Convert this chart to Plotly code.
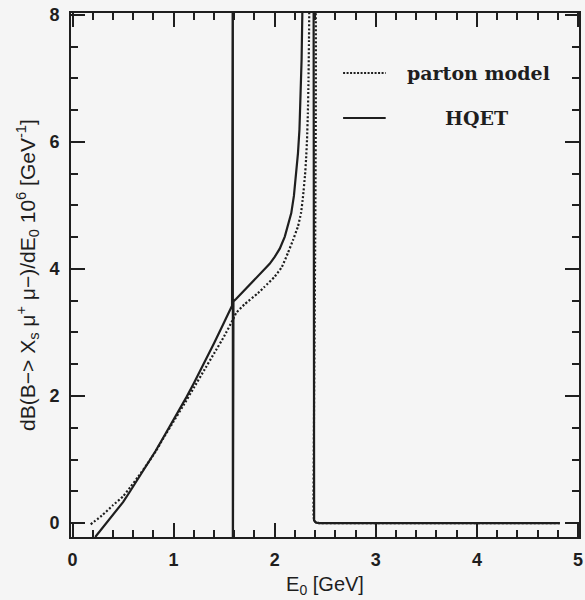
import plotly.graph_objects as go

# Muon energy spectrum in B -> X_s mu+ mu-: parton model vs HQET
E_parton = [0.18, 0.30, 0.40, 0.50, 0.57, 0.65, 0.74, 0.82, 0.90, 1.00, 1.10, 1.20,
            1.30, 1.40, 1.50, 1.586, 1.62, 1.70, 1.835, 1.90, 2.00, 2.07, 2.13, 2.18,
            2.23, 2.26, 2.28, 2.30, 2.31, 2.32, 2.328, 2.334, 2.339, 2.343, 2.35,
            2.384, 2.384, 2.39, 2.41, 2.44, 4.82]
y_parton = [-0.02, 0.13, 0.28, 0.42, 0.56, 0.73, 0.93, 1.12, 1.34, 1.60, 1.86, 2.13,
            2.40, 2.67, 2.94, 3.20, 3.31, 3.44, 3.62, 3.72, 3.88, 4.03, 4.25, 4.45,
            4.67, 4.88, 5.14, 5.48, 5.72, 6.05, 6.45, 6.95, 7.6, 8.3, 9.5,
            9.5, 0.12, 0.04, 0.005, 0.0, 0.0]

E_hqet = [0.225, 0.30, 0.40, 0.50, 0.57, 0.65, 0.74, 0.82, 0.90, 1.00, 1.06, 1.13,
          1.20, 1.30, 1.40, 1.50, 1.578, 1.586, 1.586, 1.592, 1.62, 1.70, 1.80, 1.835,
          1.90, 1.95, 2.00, 2.05, 2.10, 2.14, 2.164, 2.19, 2.21, 2.23, 2.245, 2.257,
          2.266, 2.273, 2.28, 2.29, 2.384, 2.384, 2.39, 2.41, 2.44, 4.82]
y_hqet = [-0.22, -0.07, 0.13, 0.33, 0.50, 0.70, 0.93, 1.13, 1.35, 1.62, 1.78, 1.99,
          2.20, 2.51, 2.83, 3.16, 3.42, 9.5, -1.0, 3.49, 3.53, 3.66, 3.82, 3.88,
          3.99, 4.08, 4.19, 4.32, 4.51, 4.72, 4.88, 5.15, 5.45, 5.82, 6.2, 6.7,
          7.3, 8.0, 8.8, 9.5, 9.5, 0.12, 0.04, 0.005, 0.0, 0.0]

x_ticks = [0, 1, 2, 3, 4, 5]
y_ticks = [0, 2, 4, 6, 8]

INK = "#1e1e1e"
BG = "#f5f5f5"

fig = go.Figure()
fig.add_trace(go.Scatter(x=E_parton, y=y_parton, mode="lines", name="parton model",
                         line=dict(color=INK, width=2.2, dash="2px,2px"), line_shape="spline",
                         line_smoothing=0.4))
fig.add_trace(go.Scatter(x=E_hqet, y=y_hqet, mode="lines", name="HQET",
                         line=dict(color=INK, width=2.2)))

axis_common = dict(
    showline=True, linecolor=INK, linewidth=2, mirror="allticks",
    ticks="inside", ticklen=14, tickwidth=2, tickcolor=INK,
    showgrid=False, zeroline=False,
    tickfont=dict(family="Liberation Sans", size=18, color=INK, weight="bold"),
)

fig.update_xaxes(range=[-0.015, 5.01], tickvals=x_ticks, ticktext=[str(v) for v in x_ticks],
                 minor=dict(dtick=0.2, ticks="inside", ticklen=7, tickwidth=2, tickcolor=INK),
                 title=dict(text="E<sub>0</sub> [GeV]", standoff=8,
                            font=dict(family="Liberation Sans", size=20, color=INK)),
                 ticklabelstandoff=5,
                 **axis_common)
fig.update_yaxes(range=[-0.22, 8.03], tickvals=y_ticks, ticktext=[str(v) for v in y_ticks],
                 minor=dict(dtick=0.5, tick0=0, ticks="inside", ticklen=7, tickwidth=2, tickcolor=INK),
                 title=dict(text="dB(B−> X<sub>s</sub> μ<sup>+</sup> μ−)/dE<sub>0</sub> 10<sup>6</sup> [GeV<sup>-1</sup>]",
                            standoff=8,
                            font=dict(family="Liberation Sans", size=21, color=INK)),
                 ticklabelstandoff=6,
                 **axis_common)

# Legend drawn in the upper right of the plot
legend_font = dict(family="DejaVu Serif", size=19, color=INK, weight="bold")
fig.add_shape(type="line", xref="paper", yref="paper", x0=0.5356, x1=0.6195, y0=0.8855, y1=0.8855,
              line=dict(color=INK, width=2, dash="2px,1.5px"))
fig.add_shape(type="line", xref="paper", yref="paper", x0=0.5356, x1=0.6195, y0=0.7996, y1=0.7996,
              line=dict(color=INK, width=2))
fig.add_annotation(xref="paper", yref="paper", x=0.6566, y=0.8855, xanchor="left", yanchor="middle",
                   text="parton model", showarrow=False, font=legend_font)
fig.add_annotation(xref="paper", yref="paper", x=0.799, y=0.7996, xanchor="center", yanchor="middle",
                   text="HQET", showarrow=False, font=legend_font)

fig.update_layout(
    width=585, height=600,
    margin=dict(l=71, r=2, t=13, b=63),
    paper_bgcolor=BG, plot_bgcolor=BG,
    showlegend=False,
)

fig.write_html("out.html")
